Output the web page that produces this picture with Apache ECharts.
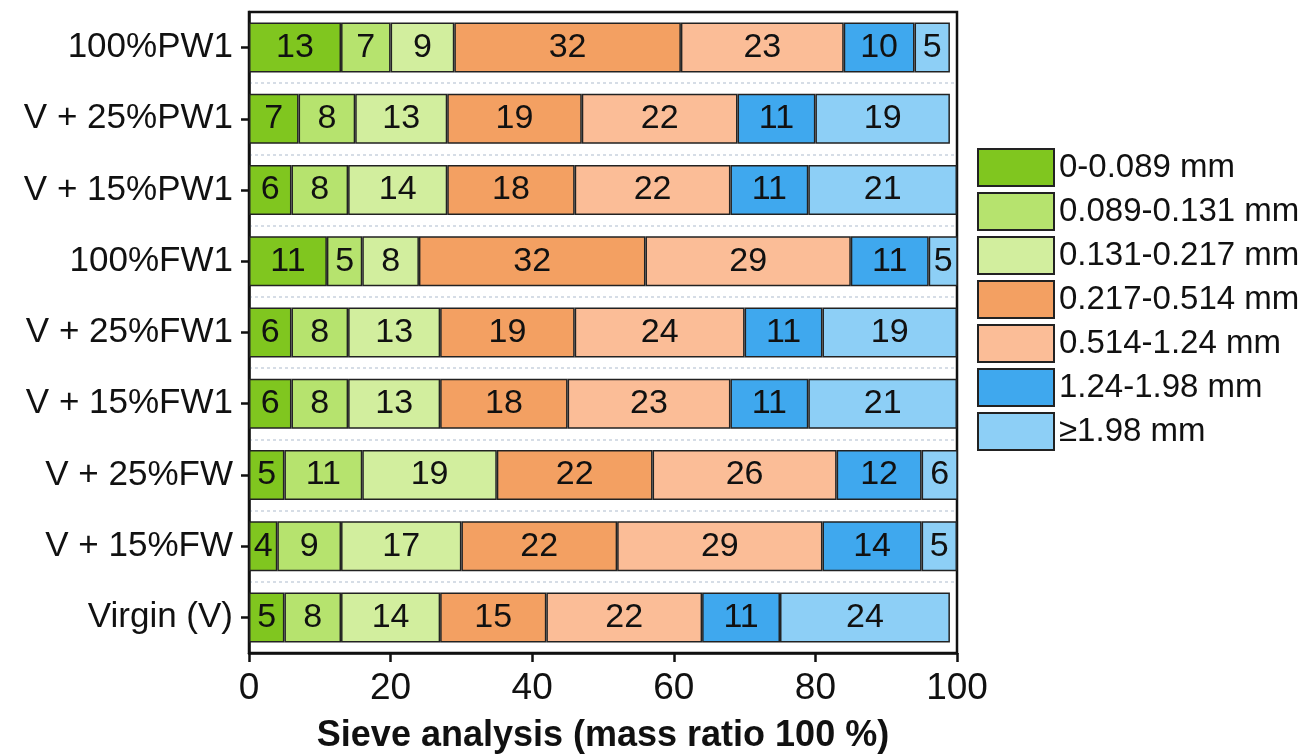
<!DOCTYPE html>
<html>
<head>
<meta charset="utf-8">
<script src="https://cdn.jsdelivr.net/npm/echarts@6/dist/echarts.min.js"></script>
<style>
  html, body { margin: 0; padding: 0; background: #fff; }
  #chart { width: 1311px; height: 756px; }
</style>
</head>
<body>
<div id="chart"></div>
<script>
// Mixtures, listed top to bottom
const mixes = ['100%PW1', 'V + 25%PW1', 'V + 15%PW1', '100%FW1', 'V + 25%FW1',
               'V + 15%FW1', 'V + 25%FW', 'V + 15%FW', 'Virgin (V)'];

// Particle size fractions
const fractions = ['0-0.089 mm', '0.089-0.131 mm', '0.131-0.217 mm', '0.217-0.514 mm',
                   '0.514-1.24 mm', '1.24-1.98 mm', '\u22651.98 mm'];

// Mass share (%) of each fraction, one value per mixture
const f0000_0089 = [13, 7, 6, 11, 6, 6, 5, 4, 5];
const f0089_0131 = [7, 8, 8, 5, 8, 8, 11, 9, 8];
const f0131_0217 = [9, 13, 14, 8, 13, 13, 19, 17, 14];
const f0217_0514 = [32, 19, 18, 32, 19, 18, 22, 22, 15];
const f0514_1240 = [23, 22, 22, 29, 24, 23, 26, 29, 22];
const f1240_1980 = [10, 11, 11, 11, 11, 11, 12, 14, 11];
const fOver1980 = [5, 19, 21, 5, 19, 21, 6, 5, 24];

const xTicks = [0, 20, 40, 60, 80, 100];

const shares = [f0000_0089, f0089_0131, f0131_0217, f0217_0514, f0514_1240, f1240_1980, fOver1980];
const colors = ['#80c61f', '#b6e36e', '#d2ee9e', '#f3a062', '#fbbd97', '#3fa8ee', '#8dcff6'];

const FONT = '"Liberation Sans", Arial, sans-serif';

const chart = echarts.init(document.getElementById('chart'), null, { renderer: 'canvas' });

chart.setOption({
  animation: false,
  backgroundColor: '#ffffff',
  textStyle: { fontFamily: FONT },
  grid: {
    left: 249, right: 354, top: 12, bottom: 103,
    outerBoundsMode: 'none',
    containLabel: false,
    show: true, borderColor: '#111', borderWidth: 2.5, backgroundColor: 'transparent'
  },
  legend: {
    orient: 'vertical',
    left: 972, top: 143,
    itemWidth: 76, itemHeight: 37, itemGap: 5,
    icon: 'rect',
    data: fractions,
    textStyle: { fontFamily: FONT, fontSize: 33, color: '#111' }
  },
  xAxis: {
    type: 'value',
    min: xTicks[0], max: xTicks[xTicks.length - 1], interval: 20,
    name: 'Sieve analysis (mass ratio 100 %)',
    nameLocation: 'middle',
    nameGap: 65,
    nameTextStyle: { fontFamily: FONT, fontSize: 36, fontWeight: 'bold', color: '#111' },
    axisLine: { show: true, lineStyle: { color: '#111', width: 2.5 } },
    axisTick: { show: true, inside: false, length: 9, lineStyle: { color: '#111', width: 2.5 } },
    axisLabel: { fontFamily: FONT, fontSize: 37, color: '#111', margin: 17 },
    splitLine: { show: false }
  },
  yAxis: {
    type: 'category',
    inverse: true,
    data: mixes,
    axisLine: { show: true, lineStyle: { color: '#111', width: 2.5 } },
    axisTick: { show: true, inside: false, length: 8, alignWithLabel: true, lineStyle: { color: '#111', width: 2.5 } },
    axisLabel: { fontFamily: FONT, fontSize: 35, color: '#111', margin: 16 },
    splitLine: {
      show: true, showMinLine: false, showMaxLine: false,
      lineStyle: { color: '#c9d2de', width: 1.5, type: [3, 3] }
    }
  },
  series: fractions.map((name, i) => ({
    name: name,
    type: 'bar',
    stack: 'total',
    barWidth: 50,
    data: shares[i],
    itemStyle: { color: colors[i], borderColor: '#222', borderWidth: 1.5 },
    label: {
      show: true,
      position: 'inside',
      fontFamily: FONT,
      fontSize: 34,
      color: '#111'
    }
  }))
});
</script>
</body>
</html>
